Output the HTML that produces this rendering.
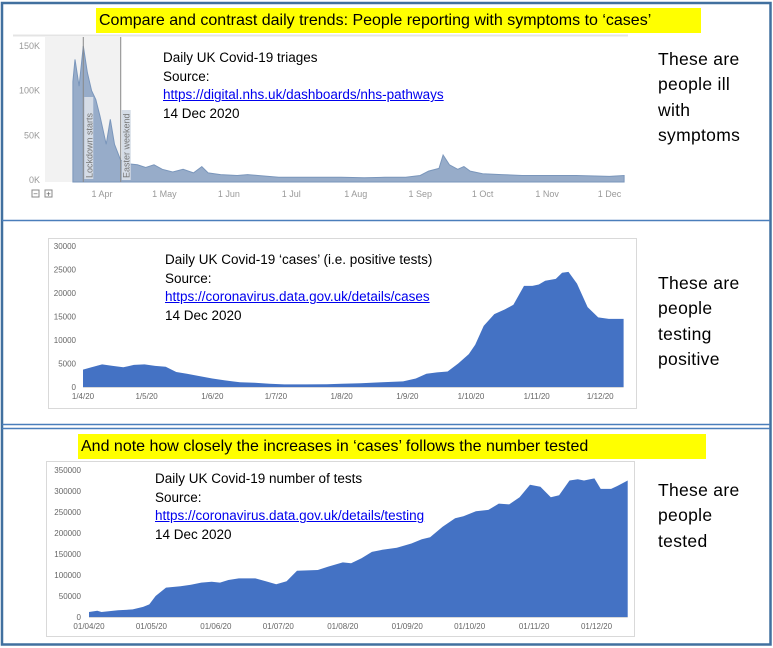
<!DOCTYPE html>
<html><head><meta charset="utf-8">
<style>
body{margin:0;background:#fff;}
#root{position:relative;width:773px;height:648px;overflow:hidden;background:#fff;font-family:"Liberation Sans",sans-serif;}
.t{position:absolute;white-space:nowrap;color:#000;}
.ann{font-size:13.5px;line-height:18.7px;}
.ann a{color:#0000ee;text-decoration:underline;}
.side{font-size:17.5px;line-height:25.3px;letter-spacing:0.3px;}
.hdr{position:absolute;background:#ffff00;font-size:16px;line-height:25px;padding:0 3px;white-space:nowrap;}
svg text{font-family:"Liberation Sans",sans-serif;}
</style></head>
<body>
<div id="root">
<svg id="svg" width="773" height="648" style="position:absolute;left:0;top:0"></svg>

<div class="hdr" style="left:96px;top:8px;width:599px;">Compare and contrast daily trends: People reporting with symptoms to ‘cases’</div>

<div class="t ann" style="left:163px;top:49px;">Daily UK Covid-19 triages<br>Source:<br><a href="#">https://digital.nhs.uk/dashboards/nhs-pathways</a><br>14 Dec 2020</div>
<div class="t side" style="left:658px;top:47px;">These are<br>people ill<br>with<br>symptoms</div>

<div class="t ann" style="left:165px;top:251px;">Daily UK Covid-19 ‘cases’ (i.e. positive tests)<br>Source:<br><a href="#">https://coronavirus.data.gov.uk/details/cases</a><br>14 Dec 2020</div>
<div class="t side" style="left:658px;top:271px;">These are<br>people<br>testing<br>positive</div>

<div class="hdr" style="left:78px;top:434px;width:622px;">And note how closely the increases in ‘cases’ follows the number tested</div>

<div class="t ann" style="left:155px;top:470px;">Daily UK Covid-19 number of tests<br>Source:<br><a href="#">https://coronavirus.data.gov.uk/details/testing</a><br>14 Dec 2020</div>
<div class="t side" style="left:658px;top:478px;">These are<br>people<br>tested</div>
</div>

<script>
// ---- Triage chart data (K) ----
const triageDates = ["03-18","03-19","03-21","03-23","03-25","03-27","03-29","03-31","04-03","04-05","04-07","04-10","04-12","04-14","04-18","04-22","04-26","04-30","05-05","05-10","05-15","05-19","05-22","05-28","06-05","06-10","06-15","06-25","07-05","07-15","07-25","08-05","08-15","08-25","09-01","09-05","09-10","09-12","09-15","09-19","09-22","09-25","10-01","10-10","10-20","11-01","11-15","12-01","12-08"];
const triageValues = [110,135,105,150,120,100,90,72,40,68,40,22,21,18,17,14,17,12,9,12,8,15,8,6,5,6,5,3,3,3,3,2.5,3,3,5,10,13,28,17,12,15,10,7,6,5,5,5,4,5];
const triageTicks = [0,50,100,150];
const triageTickLabels = ["0K","50K","100K","150K"];
const triageMonths = ["04-01","05-01","06-01","07-01","08-01","09-01","10-01","11-01","12-01"];
const triageMonthLabels = ["1 Apr","1 May","1 Jun","1 Jul","1 Aug","1 Sep","1 Oct","1 Nov","1 Dec"];

// ---- Cases chart data ----
const casesDates = ["04-01","04-05","04-10","04-15","04-20","04-25","04-30","05-05","05-10","05-15","05-20","05-25","06-01","06-07","06-14","06-21","06-28","07-05","07-15","07-25","08-01","08-10","08-20","08-30","09-05","09-10","09-15","09-20","09-25","09-30","10-03","10-07","10-12","10-17","10-21","10-26","10-30","11-02","11-05","11-10","11-13","11-16","11-20","11-25","11-30","12-05","12-12"];
const casesValues = [3700,4200,4800,4500,4200,4700,4800,4500,4300,3200,2800,2400,1800,1400,1000,900,700,550,550,600,700,800,1000,1200,1800,2800,3100,3300,5000,7000,9000,13000,15500,16500,17500,21500,21500,21800,22600,23000,24300,24500,22000,17000,14800,14500,14500];
const casesTicks = [0,5000,10000,15000,20000,25000,30000];
const casesMonths = ["04-01","05-01","06-01","07-01","08-01","09-01","10-01","11-01","12-01"];
const casesMonthLabels = ["1/4/20","1/5/20","1/6/20","1/7/20","1/8/20","1/9/20","1/10/20","1/11/20","1/12/20"];

// ---- Tests chart data ----
const testsDates = ["04-01","04-05","04-07","04-15","04-22","04-27","04-30","05-03","05-08","05-15","05-20","05-25","05-30","06-03","06-07","06-12","06-20","06-25","06-30","07-05","07-10","07-20","07-25","08-01","08-05","08-10","08-15","08-20","08-27","09-03","09-08","09-12","09-18","09-24","09-28","10-04","10-10","10-15","10-20","10-25","10-30","11-04","11-09","11-13","11-18","11-22","11-25","11-30","12-03","12-08","12-11","12-16"];
const testsValues = [12000,15000,12000,16000,18000,24000,30000,50000,70000,73000,77000,82000,84000,82000,88000,92000,92000,85000,78000,85000,110000,112000,120000,130000,128000,140000,155000,160000,165000,175000,185000,190000,215000,235000,240000,252000,255000,270000,268000,285000,315000,310000,285000,290000,325000,328000,325000,330000,305000,305000,312000,325000];
const testsTicks = [0,50000,100000,150000,200000,250000,300000,350000];
const testsMonths = ["04-01","05-01","06-01","07-01","08-01","09-01","10-01","11-01","12-01"];
const testsMonthLabels = ["01/04/20","01/05/20","01/06/20","01/07/20","01/08/20","01/09/20","01/10/20","01/11/20","01/12/20"];

const NS="http://www.w3.org/2000/svg";
const svg=document.getElementById('svg');
function doy(s){const [m,d]=s.split('-').map(Number);const cum=[0,31,60,91,121,152,182,213,244,274,305,335];return cum[m-1]+d;}
function mk(tag,attrs,parent){const e=document.createElementNS(NS,tag);for(const k in attrs)e.setAttribute(k,attrs[k]);(parent||svg).appendChild(e);return e;}
function areaPath(dates,vals,xf,yf,base){let d="M"+xf(dates[0]).toFixed(1)+","+base;for(let i=0;i<dates.length;i++)d+=" L"+xf(dates[i]).toFixed(1)+","+yf(vals[i]).toFixed(1);d+=" L"+xf(dates[dates.length-1]).toFixed(1)+","+base+" Z";return d;}

// ===== Frame =====
let r=mk('rect',{x:2,y:3,width:768.5,height:641.5,fill:'none',stroke:'#41709f','stroke-width':2.5});


let l1=mk('line',{x1:2,y1:220.5,x2:770,y2:220.5,stroke:'#4a7ebb','stroke-width':1.5});


let l2=mk('line',{x1:2,y1:424.5,x2:770,y2:424.5,stroke:'#4a7ebb','stroke-width':1.5});


let l3=mk('line',{x1:2,y1:428.5,x2:770,y2:428.5,stroke:'#4a7ebb','stroke-width':1.5});



// ===== Triage chart =====
(function(){
 const x0=doy("04-01"),px0=102,k=2.08;
 const xf=s=>px0+(doy(s)-x0)*k;
 const yf=v=>180-v*(134/150);
 const g=mk('g',{});
 
 
 let top=mk('line',{x1:13,y1:35.5,x2:628,y2:35.5,stroke:'#e4e4e4','stroke-width':2},g);
 
 
 let sh=mk('rect',{x:45,y:37,width:xf("04-10")-45,height:145,fill:'#f2f2f2'},g);
 
 
 triageTicks.forEach((t,i)=>{const tx=mk('text',{x:40,y:yf(t)+3,'text-anchor':'end','font-size':9,fill:'#999'},g);tx.textContent=triageTickLabels[i];
  
  });
 const a=mk('path',{d:areaPath(triageDates,triageValues,xf,yf,182),fill:'#97acc9',stroke:'#7a96bb','stroke-width':1},g);
 
 
 [["03-23","Lockdown starts","lockdown-marker"],["04-10","Easter weekend","easter-marker"]].forEach(m=>{
  const x=xf(m[0]);
  const ln=mk('line',{x1:x,y1:37,x2:x,y2:182,stroke:'#888','stroke-width':1},g);
  
  
  const bg=mk('rect',{x:x+1,y:m[0]=="03-23"?97:110,width:9,height:m[0]=="03-23"?82:70,fill:'#d5dce6'},g);
  
  
  const tx=mk('text',{x:0,y:0,'font-size':9,fill:'#777',transform:'translate('+(x+9)+',178) rotate(-90)'},g);
  tx.textContent=m[1];
  
  
 });
 triageMonths.forEach((m,i)=>{const tx=mk('text',{x:xf(m),y:197,'text-anchor':'middle','font-size':9,fill:'#999'},g);tx.textContent=triageMonthLabels[i];
  
  });
 [["zoom-out-button",32,"−"],["zoom-in-button",45,"+"]].forEach(b=>{
  const bb=mk('rect',{x:b[1],y:190,width:7,height:7,fill:'#fff',stroke:'#888','stroke-width':1},g);
  
  
  const t=mk('text',{x:b[1]+3.5,y:196.5,'text-anchor':'middle','font-size':8,fill:'#555'},g);t.textContent=b[2];
  
  
 });
})();

// ===== Generic excel-style area chart =====
function excelChart(o){
 const g=mk('g',{});
 
 
 const b=mk('rect',{x:o.bx,y:o.by,width:o.bw,height:o.bh,fill:'#fff',stroke:'#d9d9d9','stroke-width':1},g);
 
 
 const x0=doy("04-01");
 const xf=s=>o.px0+(doy(s)-x0)*o.k;
 const yf=v=>o.base-v*o.sy;
 o.ticks.forEach(t=>{const tx=mk('text',{x:o.lx,y:yf(t)+3,'text-anchor':'end','font-size':8,fill:'#666'},g);tx.textContent=String(t);
  
  });
 const a=mk('path',{d:areaPath(o.dates,o.vals,xf,yf,o.base),fill:'#4472c4'},g);
 
 
 const ax=mk('line',{x1:o.px0,y1:o.base+0.5,x2:xf(o.dates[o.dates.length-1]),y2:o.base+0.5,stroke:'#d9d9d9','stroke-width':1},g);
 
 
 o.months.forEach((m,i)=>{const tx=mk('text',{x:xf(m),y:o.base+12,'text-anchor':'middle','font-size':8,fill:'#666'},g);tx.textContent=o.mlabels[i];
  
  });
}
excelChart({name:'cases',bx:48.5,by:238.5,bw:588,bh:170,px0:83,k:2.12,base:387,sy:141/30000,lx:76,ticks:casesTicks,dates:casesDates,vals:casesValues,months:casesMonths,mlabels:casesMonthLabels});
excelChart({name:'tests',bx:46.5,by:461.5,bw:588,bh:175,px0:89,k:2.08,base:617,sy:147/350000,lx:81,ticks:testsTicks,dates:testsDates,vals:testsValues,months:testsMonths,mlabels:testsMonthLabels});
</script>
</body></html>
